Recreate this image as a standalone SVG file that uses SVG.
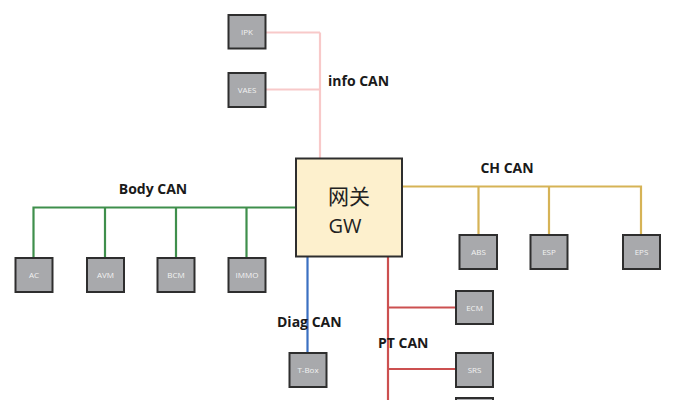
<svg xmlns="http://www.w3.org/2000/svg" width="676" height="400" viewBox="0 0 676 400">
<style>
.ecu rect{fill:#a8a9ac;stroke:#2e2e2e;stroke-width:2}
.ecu text{fill:#f2f2f2;font-family:"Open Sans","Noto Sans",sans-serif;font-size:8px;text-anchor:middle}
.bus{fill:none;stroke-width:2.2}
.lbl{font-family:"Open Sans","Noto Sans",sans-serif;font-size:14px;font-weight:bold;fill:#1a1a1a}
</style>
<rect width="676" height="400" fill="#ffffff"/>
<g id="connectors">
<path class="bus" stroke="#f8c9c9" d="M265,32.5 H320 M265,89.5 H320 M320,32.5 V158"/>
<path class="bus" stroke="#3f8f4c" d="M296,207.5 H33.5 V258 M105,207.5 V258 M176,207.5 V258 M246.5,207.5 V258"/>
<path class="bus" stroke="#d6b356" d="M402,186.5 H641 V235 M478.5,186.5 V235 M549,186.5 V235"/>
<path class="bus" stroke="#3b70c2" d="M307.5,257 V353"/>
<path class="bus" stroke="#cc5050" d="M388,257 V400 M388,307.5 H456 M388,369 H456"/>
</g>
<g id="gateway">
<rect x="296" y="158.5" width="106" height="98" fill="#fdf0cd" stroke="#2e2e2e" stroke-width="2"/>
<text x="349" y="204" font-family="'Noto Sans CJK SC',sans-serif" font-size="21" text-anchor="middle" fill="#222">网关</text>
<text x="345" y="233" font-family="'Open Sans','Noto Sans',sans-serif" font-size="20" text-anchor="middle" fill="#222">GW</text>
</g>
<g id="IPK" class="ecu"><rect x="228.5" y="15" width="37" height="33.5"/><text x="247" y="35">IPK</text></g>
<g id="VAES" class="ecu"><rect x="228.5" y="73" width="37" height="34"/><text x="247" y="93">VAES</text></g>
<g id="AC" class="ecu"><rect x="15.5" y="258" width="37" height="34"/><text x="34" y="278">AC</text></g>
<g id="AVM" class="ecu"><rect x="87" y="258" width="37" height="34"/><text x="105.5" y="278">AVM</text></g>
<g id="BCM" class="ecu"><rect x="157.5" y="258" width="37" height="34"/><text x="176" y="278">BCM</text></g>
<g id="IMMO" class="ecu"><rect x="228.5" y="258" width="37" height="34"/><text x="247" y="278">IMMO</text></g>
<g id="ABS" class="ecu"><rect x="459.5" y="235" width="37.5" height="34"/><text x="478.5" y="255">ABS</text></g>
<g id="ESP" class="ecu"><rect x="530.5" y="235" width="37" height="34"/><text x="549" y="255">ESP</text></g>
<g id="EPS" class="ecu"><rect x="623" y="235" width="37" height="34"/><text x="641.5" y="255">EPS</text></g>
<g id="TBox" class="ecu"><rect x="289.5" y="353" width="37" height="34"/><text x="308" y="373">T-Box</text></g>
<g id="ECM" class="ecu"><rect x="456" y="291" width="37" height="33"/><text x="474.5" y="311">ECM</text></g>
<g id="SRS" class="ecu"><rect x="456" y="353" width="37" height="34"/><text x="474.5" y="373">SRS</text></g>
<g id="ECU-partial" class="ecu"><rect x="456" y="398" width="37" height="34"/></g>
<g id="labels">
<text class="lbl" x="328" y="86">info CAN</text>
<text class="lbl" x="153" y="194" text-anchor="middle">Body CAN</text>
<text class="lbl" x="507" y="173" text-anchor="middle">CH CAN</text>
<text class="lbl" x="277" y="327">Diag CAN</text>
<text class="lbl" x="378" y="348">PT CAN</text>
</g>
</svg>
